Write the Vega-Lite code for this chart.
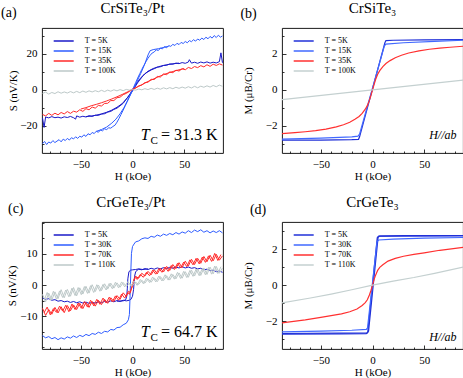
{
"$schema":"https://vega.github.io/schema/vega-lite/v6.json",
"padding":{"left":0,"top":0,"right":0,"bottom":0},
"columns":2,
"spacing":{"row":69,"column":59},
"bounds":"flush",
"resolve":{"scale":{"x":"independent","y":"independent","color":"independent"},"axis":{"x":"independent","y":"independent"},"legend":{"color":"independent"}},
"config":{
 "font":"Liberation Serif",
 "view":{"stroke":"#000","strokeWidth":0.9},
 "axis":{"domain":false,"grid":false,"labelFont":"Liberation Serif","labelFontSize":11,"labelColor":"#000","titleFont":"Liberation Serif","titleFontSize":11,"titleFontWeight":"normal","titleColor":"#000","tickColor":"#000","tickWidth":0.8,"tickSize":-4,"labelPadding":9,"labelOverlap":false},
 "legend":{"labelFont":"Liberation Serif","labelFontSize":8,"labelColor":"#000","symbolStrokeWidth":1.5,"symbolType":"M-2,0L2,0","symbolSize":100,"labelOffset":15,"padding":0,"rowPadding":-3},
 "text":{"color":"#000","font":"Liberation Serif"}
},
"concat":[
{"width":181,"height":125,
 "resolve":{"axis":{"x":"independent","y":"independent"}},
 "layer":[
 {"data":{"values":[
{"s":"5K","H":-87,"v":-15.6},{"s":"5K","H":-85.5,"v":-20.8},{"s":"5K","H":-84,"v":-15.0},{"s":"5K","H":-81,"v":-15.5},{"s":"5K","H":-78,"v":-14.8},{"s":"5K","H":-75,"v":-15.4},{"s":"5K","H":-72,"v":-15.1},{"s":"5K","H":-69,"v":-15.6},{"s":"5K","H":-66,"v":-14.9},{"s":"5K","H":-63,"v":-15.3},{"s":"5K","H":-60,"v":-14.7},{"s":"5K","H":-57,"v":-15.4},{"s":"5K","H":-55,"v":-16.2},{"s":"5K","H":-54,"v":-14.4},{"s":"5K","H":-51,"v":-15.1},{"s":"5K","H":-48,"v":-14.6},{"s":"5K","H":-45,"v":-15.0},{"s":"5K","H":-42,"v":-14.3},{"s":"5K","H":-39,"v":-14.7},{"s":"5K","H":-36,"v":-14.0},{"s":"5K","H":-33,"v":-14.1},{"s":"5K","H":-30,"v":-13.4},{"s":"5K","H":-27,"v":-13.2},{"s":"5K","H":-24,"v":-12.3},{"s":"5K","H":-21,"v":-11.9},{"s":"5K","H":-18,"v":-10.8},{"s":"5K","H":-15,"v":-10.1},{"s":"5K","H":-12,"v":-8.8},{"s":"5K","H":-9,"v":-7.4},{"s":"5K","H":-6,"v":-5.1},{"s":"5K","H":-3,"v":-2.8},{"s":"5K","H":0,"v":0.1},{"s":"5K","H":3,"v":2.8},{"s":"5K","H":6,"v":5.4},{"s":"5K","H":9,"v":7.3},{"s":"5K","H":12,"v":9.1},{"s":"5K","H":15,"v":10.1},{"s":"5K","H":18,"v":11.1},{"s":"5K","H":21,"v":11.8},{"s":"5K","H":24,"v":12.6},{"s":"5K","H":27,"v":12.9},{"s":"5K","H":30,"v":13.6},{"s":"5K","H":33,"v":13.7},{"s":"5K","H":36,"v":14.4},{"s":"5K","H":39,"v":14.3},{"s":"5K","H":42,"v":14.9},{"s":"5K","H":45,"v":14.6},{"s":"5K","H":48,"v":15.2},{"s":"5K","H":51,"v":14.8},{"s":"5K","H":54,"v":15.5},{"s":"5K","H":55,"v":16.8},{"s":"5K","H":57,"v":14.9},{"s":"5K","H":60,"v":15.4},{"s":"5K","H":63,"v":14.8},{"s":"5K","H":66,"v":15.5},{"s":"5K","H":69,"v":15.0},{"s":"5K","H":72,"v":15.6},{"s":"5K","H":75,"v":14.9},{"s":"5K","H":78,"v":15.4},{"s":"5K","H":81,"v":15.0},{"s":"5K","H":84,"v":15.7},{"s":"5K","H":85.5,"v":20.6},{"s":"5K","H":87,"v":15.1},
{"s":"5Kr","H":-45,"v":-14.8},{"s":"5Kr","H":-40,"v":-14.5},{"s":"5Kr","H":-35,"v":-14.0},{"s":"5Kr","H":-30,"v":-13.3},{"s":"5Kr","H":-25,"v":-12.4},{"s":"5Kr","H":-20,"v":-11.2},{"s":"5Kr","H":-15,"v":-9.6},{"s":"5Kr","H":-10,"v":-7.6},{"s":"5Kr","H":-5,"v":-4.4},{"s":"5Kr","H":0,"v":-0.5},{"s":"5Kr","H":5,"v":4.0},{"s":"5Kr","H":10,"v":7.8},{"s":"5Kr","H":15,"v":10.4},{"s":"5Kr","H":20,"v":11.9},{"s":"5Kr","H":25,"v":12.9},{"s":"5Kr","H":30,"v":13.6},{"s":"5Kr","H":35,"v":14.2},{"s":"5Kr","H":40,"v":14.6},{"s":"5Kr","H":45,"v":14.9},
{"s":"15K","H":-87,"v":-29.8},{"s":"15K","H":-85,"v":-28.6},{"s":"15K","H":-83,"v":-30.3},{"s":"15K","H":-81,"v":-28.9},{"s":"15K","H":-79,"v":-29.5},{"s":"15K","H":-77,"v":-28.1},{"s":"15K","H":-75,"v":-29.2},{"s":"15K","H":-73,"v":-28.4},{"s":"15K","H":-71,"v":-27.6},{"s":"15K","H":-69,"v":-28.8},{"s":"15K","H":-67,"v":-27.3},{"s":"15K","H":-65,"v":-28.1},{"s":"15K","H":-63,"v":-26.9},{"s":"15K","H":-61,"v":-27.8},{"s":"15K","H":-59,"v":-26.5},{"s":"15K","H":-57,"v":-27.2},{"s":"15K","H":-55,"v":-26.0},{"s":"15K","H":-53,"v":-26.9},{"s":"15K","H":-51,"v":-25.7},{"s":"15K","H":-49,"v":-26.2},{"s":"15K","H":-47,"v":-24.9},{"s":"15K","H":-45,"v":-25.8},{"s":"15K","H":-43,"v":-24.3},{"s":"15K","H":-41,"v":-24.9},{"s":"15K","H":-39,"v":-23.6},{"s":"15K","H":-37,"v":-24.2},{"s":"15K","H":-35,"v":-22.9},{"s":"15K","H":-33,"v":-23.5},{"s":"15K","H":-31,"v":-22.2},{"s":"15K","H":-29,"v":-22.7},{"s":"15K","H":-27,"v":-21.6},{"s":"15K","H":-25,"v":-22.0},{"s":"15K","H":-23,"v":-21.0},{"s":"15K","H":-21,"v":-21.2},{"s":"15K","H":-19,"v":-20.3},{"s":"15K","H":-17,"v":-19.6},{"s":"15K","H":-15,"v":-17.9},{"s":"15K","H":-13,"v":-15.8},{"s":"15K","H":-11,"v":-13.5},{"s":"15K","H":-9,"v":-11.2},{"s":"15K","H":-7,"v":-8.7},{"s":"15K","H":-5,"v":-6.3},{"s":"15K","H":-3,"v":-3.8},{"s":"15K","H":-1,"v":-1.2},{"s":"15K","H":1,"v":1.4},{"s":"15K","H":3,"v":4.0},{"s":"15K","H":5,"v":6.6},{"s":"15K","H":7,"v":9.0},{"s":"15K","H":9,"v":11.4},{"s":"15K","H":11,"v":13.6},{"s":"15K","H":13,"v":15.7},{"s":"15K","H":15,"v":17.6},{"s":"15K","H":17,"v":19.2},{"s":"15K","H":19,"v":20.5},{"s":"15K","H":21,"v":21.1},{"s":"15K","H":23,"v":22.3},{"s":"15K","H":25,"v":21.9},{"s":"15K","H":27,"v":23.2},{"s":"15K","H":29,"v":22.8},{"s":"15K","H":31,"v":24.1},{"s":"15K","H":33,"v":23.4},{"s":"15K","H":35,"v":24.6},{"s":"15K","H":37,"v":24.2},{"s":"15K","H":39,"v":25.3},{"s":"15K","H":41,"v":24.7},{"s":"15K","H":43,"v":25.9},{"s":"15K","H":45,"v":25.2},{"s":"15K","H":47,"v":26.4},{"s":"15K","H":49,"v":25.8},{"s":"15K","H":51,"v":26.9},{"s":"15K","H":53,"v":26.2},{"s":"15K","H":55,"v":27.4},{"s":"15K","H":57,"v":26.8},{"s":"15K","H":59,"v":27.9},{"s":"15K","H":61,"v":27.1},{"s":"15K","H":63,"v":28.3},{"s":"15K","H":65,"v":27.6},{"s":"15K","H":67,"v":28.8},{"s":"15K","H":69,"v":28.0},{"s":"15K","H":71,"v":29.3},{"s":"15K","H":73,"v":28.4},{"s":"15K","H":75,"v":29.7},{"s":"15K","H":77,"v":28.8},{"s":"15K","H":79,"v":30.2},{"s":"15K","H":81,"v":29.1},{"s":"15K","H":83,"v":30.4},{"s":"15K","H":85,"v":29.3},{"s":"15K","H":87,"v":30.0},
{"s":"15Kr","H":-35,"v":-23.0},{"s":"15Kr","H":-30,"v":-22.0},{"s":"15Kr","H":-25,"v":-20.6},{"s":"15Kr","H":-20,"v":-18.4},{"s":"15Kr","H":-16,"v":-16.2},{"s":"15Kr","H":-12,"v":-13.2},{"s":"15Kr","H":-8,"v":-9.6},{"s":"15Kr","H":-4,"v":-5.0},{"s":"15Kr","H":0,"v":-0.4},{"s":"15Kr","H":4,"v":4.4},{"s":"15Kr","H":8,"v":9.2},{"s":"15Kr","H":12,"v":14.6},{"s":"15Kr","H":15,"v":19.4},{"s":"15Kr","H":17,"v":21.8},{"s":"15Kr","H":20,"v":22.4},{"s":"15Kr","H":25,"v":22.9},{"s":"15Kr","H":30,"v":23.6},{"s":"15Kr","H":35,"v":24.3},
{"s":"35K","H":-87,"v":-13.6},{"s":"35K","H":-84,"v":-14.4},{"s":"35K","H":-81,"v":-13.0},{"s":"35K","H":-78,"v":-14.1},{"s":"35K","H":-75,"v":-12.9},{"s":"35K","H":-72,"v":-13.8},{"s":"35K","H":-69,"v":-12.5},{"s":"35K","H":-66,"v":-13.3},{"s":"35K","H":-63,"v":-12.0},{"s":"35K","H":-60,"v":-13.0},{"s":"35K","H":-57,"v":-11.8},{"s":"35K","H":-54,"v":-12.3},{"s":"35K","H":-51,"v":-11.0},{"s":"35K","H":-48,"v":-11.9},{"s":"35K","H":-45,"v":-10.4},{"s":"35K","H":-42,"v":-11.0},{"s":"35K","H":-39,"v":-9.5},{"s":"35K","H":-36,"v":-10.1},{"s":"35K","H":-33,"v":-8.6},{"s":"35K","H":-30,"v":-8.9},{"s":"35K","H":-27,"v":-7.5},{"s":"35K","H":-24,"v":-7.4},{"s":"35K","H":-21,"v":-5.9},{"s":"35K","H":-18,"v":-5.9},{"s":"35K","H":-15,"v":-4.3},{"s":"35K","H":-12,"v":-4.0},{"s":"35K","H":-9,"v":-2.6},{"s":"35K","H":-6,"v":-1.9},{"s":"35K","H":-3,"v":-0.8},{"s":"35K","H":0,"v":0.2},{"s":"35K","H":3,"v":1.0},{"s":"35K","H":6,"v":2.2},{"s":"35K","H":9,"v":2.7},{"s":"35K","H":12,"v":4.1},{"s":"35K","H":15,"v":4.3},{"s":"35K","H":18,"v":5.9},{"s":"35K","H":21,"v":5.8},{"s":"35K","H":24,"v":7.5},{"s":"35K","H":27,"v":7.2},{"s":"35K","H":30,"v":8.9},{"s":"35K","H":33,"v":8.5},{"s":"35K","H":36,"v":10.0},{"s":"35K","H":39,"v":9.6},{"s":"35K","H":42,"v":11.0},{"s":"35K","H":45,"v":10.5},{"s":"35K","H":48,"v":11.8},{"s":"35K","H":51,"v":11.2},{"s":"35K","H":54,"v":12.5},{"s":"35K","H":57,"v":11.9},{"s":"35K","H":60,"v":13.0},{"s":"35K","H":63,"v":12.4},{"s":"35K","H":66,"v":13.5},{"s":"35K","H":69,"v":12.8},{"s":"35K","H":72,"v":14.0},{"s":"35K","H":75,"v":13.1},{"s":"35K","H":78,"v":14.3},{"s":"35K","H":81,"v":13.6},{"s":"35K","H":84,"v":14.5},{"s":"35K","H":87,"v":13.8},
{"s":"35Kr","H":-50,"v":-10.6},{"s":"35Kr","H":-45,"v":-9.8},{"s":"35Kr","H":-40,"v":-8.8},{"s":"35Kr","H":-35,"v":-8.0},{"s":"35Kr","H":-30,"v":-7.1},{"s":"35Kr","H":-25,"v":-6.1},{"s":"35Kr","H":-20,"v":-5.0},{"s":"35Kr","H":-15,"v":-3.8},{"s":"35Kr","H":-10,"v":-2.5},{"s":"35Kr","H":-5,"v":-1.1},{"s":"35Kr","H":0,"v":0.4},{"s":"35Kr","H":5,"v":1.8},{"s":"35Kr","H":10,"v":3.2},{"s":"35Kr","H":15,"v":4.7},{"s":"35Kr","H":20,"v":6.0},{"s":"35Kr","H":25,"v":7.3},{"s":"35Kr","H":30,"v":8.5},{"s":"35Kr","H":35,"v":9.5},{"s":"35Kr","H":40,"v":10.4},{"s":"35Kr","H":45,"v":11.2},{"s":"35Kr","H":50,"v":11.9},
{"s":"100K","H":-87,"v":-1.9},{"s":"100K","H":-84,"v":-1.2},{"s":"100K","H":-81,"v":-2.3},{"s":"100K","H":-78,"v":-1.4},{"s":"100K","H":-75,"v":-2.0},{"s":"100K","H":-72,"v":-1.0},{"s":"100K","H":-69,"v":-1.8},{"s":"100K","H":-66,"v":-1.1},{"s":"100K","H":-63,"v":-1.7},{"s":"100K","H":-60,"v":-0.9},{"s":"100K","H":-57,"v":-1.6},{"s":"100K","H":-54,"v":-0.8},{"s":"100K","H":-51,"v":-1.5},{"s":"100K","H":-48,"v":-0.6},{"s":"100K","H":-45,"v":-1.3},{"s":"100K","H":-42,"v":-0.5},{"s":"100K","H":-39,"v":-1.1},{"s":"100K","H":-36,"v":-0.4},{"s":"100K","H":-33,"v":-1.0},{"s":"100K","H":-30,"v":-0.2},{"s":"100K","H":-27,"v":-0.9},{"s":"100K","H":-24,"v":-0.1},{"s":"100K","H":-21,"v":-0.7},{"s":"100K","H":-18,"v":0.1},{"s":"100K","H":-15,"v":-0.5},{"s":"100K","H":-12,"v":0.2},{"s":"100K","H":-9,"v":-0.4},{"s":"100K","H":-6,"v":0.3},{"s":"100K","H":-3,"v":-0.1},{"s":"100K","H":0,"v":0.2},{"s":"100K","H":3,"v":-0.1},{"s":"100K","H":6,"v":0.5},{"s":"100K","H":9,"v":0.1},{"s":"100K","H":12,"v":0.7},{"s":"100K","H":15,"v":0.2},{"s":"100K","H":18,"v":0.9},{"s":"100K","H":21,"v":0.3},{"s":"100K","H":24,"v":1.0},{"s":"100K","H":27,"v":0.4},{"s":"100K","H":30,"v":1.2},{"s":"100K","H":33,"v":0.6},{"s":"100K","H":36,"v":1.3},{"s":"100K","H":39,"v":0.7},{"s":"100K","H":42,"v":1.5},{"s":"100K","H":45,"v":0.9},{"s":"100K","H":48,"v":1.6},{"s":"100K","H":51,"v":1.0},{"s":"100K","H":54,"v":1.8},{"s":"100K","H":57,"v":1.1},{"s":"100K","H":60,"v":2.0},{"s":"100K","H":63,"v":1.2},{"s":"100K","H":66,"v":2.1},{"s":"100K","H":69,"v":1.5},{"s":"100K","H":72,"v":2.3},{"s":"100K","H":75,"v":1.6},{"s":"100K","H":78,"v":2.5},{"s":"100K","H":81,"v":1.8},{"s":"100K","H":84,"v":2.7},{"s":"100K","H":87,"v":2.0}
 ]},
 "mark":{"type":"line","clip":true,"strokeWidth":1},
 "encoding":{
  "x":{"field":"H","type":"quantitative","scale":{"domain":[-87.5,87.5],"nice":false,"zero":false},"axis":{"orient":"bottom","title":"H (kOe)","titlePadding":1,"values":[-50,0,50]}},
  "y":{"field":"v","type":"quantitative","scale":{"domain":[-35,34.4],"nice":false,"zero":false},"axis":{"orient":"left","title":"S (nV/K)","values":[-20,0,20],"titlePadding":1}},
  "color":{"field":"s","type":"nominal","scale":{"domain":["5K","15K","35K","100K","5Kr","15Kr","35Kr"],"range":["#1a1ac8","#2e5cff","#ff2a2a","#bcc8c8","#1a1ac8","#2e5cff","#ff2a2a"]},"legend":{"title":null,"values":["5K","15K","35K","100K"],"labelExpr":"'T = ' + datum.label","orient":"none","legendX":15.7,"legendY":7}}
 }},
 {"data":{"values":[{}]},"mark":{"type":"text"},"encoding":{"x":{"datum":0,"type":"quantitative","scale":{"domain":[-87.5,87.5],"nice":false,"zero":false},"axis":{"orient":"bottom","title":null,"labels":false,"tickSize":-2,"values":[-80,-70,-60,-40,-30,-20,-10,10,20,30,40,60,70,80]}},"y":{"datum":0,"type":"quantitative","scale":{"domain":[-35,34.4],"nice":false,"zero":false},"axis":{"orient":"left","title":null,"labels":false,"tickSize":-2,"values":[-30,-10,10,30]}},"text":{"value":""}}},
 {"data":{"values":[{}]},"mark":{"type":"text","fontSize":14,"align":"left","baseline":"alphabetic"},"encoding":{"x":{"datum":-127.1,"type":"quantitative","scale":{"domain":[-87.5,87.5],"nice":false,"zero":false},"axis":null},"y":{"datum":40.4,"type":"quantitative","scale":{"domain":[-35,34.4],"nice":false,"zero":false},"axis":null},"text":{"value":"(a)"}}},
 {"data":{"values":[{}]},"mark":{"type":"text","fontSize":15,"align":"center","baseline":"alphabetic"},"encoding":{"x":{"datum":0,"type":"quantitative","scale":{"domain":[-87.5,87.5],"nice":false,"zero":false},"axis":null},"y":{"datum":42.6,"type":"quantitative","scale":{"domain":[-35,34.4],"nice":false,"zero":false},"axis":null},"text":{"value":"CrSiTe₃/Pt"}}},
 {"data":{"values":[{}]},"mark":{"type":"text","fontSize":16,"fontStyle":"italic","align":"left","baseline":"alphabetic"},"encoding":{"x":{"datum":8,"type":"quantitative","scale":{"domain":[-87.5,87.5],"nice":false,"zero":false},"axis":null},"y":{"datum":-27.8,"type":"quantitative","scale":{"domain":[-35,34.4],"nice":false,"zero":false},"axis":null},"text":{"value":"T"}}},
 {"data":{"values":[{}]},"mark":{"type":"text","fontSize":11,"align":"left","baseline":"alphabetic"},"encoding":{"x":{"datum":17.5,"type":"quantitative","scale":{"domain":[-87.5,87.5],"nice":false,"zero":false},"axis":null},"y":{"datum":-30,"type":"quantitative","scale":{"domain":[-35,34.4],"nice":false,"zero":false},"axis":null},"text":{"value":"C"}}},
 {"data":{"values":[{}]},"mark":{"type":"text","fontSize":16,"align":"left","baseline":"alphabetic"},"encoding":{"x":{"datum":27.6,"type":"quantitative","scale":{"domain":[-87.5,87.5],"nice":false,"zero":false},"axis":null},"y":{"datum":-27.8,"type":"quantitative","scale":{"domain":[-35,34.4],"nice":false,"zero":false},"axis":null},"text":{"value":"= 31.3 K"}}}
 ]},
{"width":181,"height":125,
 "resolve":{"axis":{"x":"independent","y":"independent"}},
 "layer":[
 {"data":{"values":[
{"s":"5K","H":-88,"v":-2.79},{"s":"5K","H":-50,"v":-2.78},{"s":"5K","H":-20,"v":-2.76},{"s":"5K","H":-13.5,"v":-2.74},{"s":"5K","H":-12.5,"v":-2.6},{"s":"5K","H":12,"v":2.62},{"s":"5K","H":13,"v":2.74},{"s":"5K","H":20,"v":2.76},{"s":"5K","H":50,"v":2.78},{"s":"5K","H":88,"v":2.79},
{"s":"15K","H":-88,"v":-2.73},{"s":"15K","H":-50,"v":-2.67},{"s":"15K","H":-20,"v":-2.6},{"s":"15K","H":-14,"v":-2.56},{"s":"15K","H":-12.5,"v":-2.45},{"s":"15K","H":11.5,"v":2.45},{"s":"15K","H":13,"v":2.55},{"s":"15K","H":30,"v":2.62},{"s":"15K","H":60,"v":2.7},{"s":"15K","H":88,"v":2.76},
{"s":"35K","H":-88,"v":-2.43},{"s":"35K","H":-75,"v":-2.37},{"s":"35K","H":-65,"v":-2.32},{"s":"35K","H":-55,"v":-2.26},{"s":"35K","H":-45,"v":-2.17},{"s":"35K","H":-35,"v":-2.05},{"s":"35K","H":-28,"v":-1.93},{"s":"35K","H":-22,"v":-1.79},{"s":"35K","H":-17,"v":-1.63},{"s":"35K","H":-13,"v":-1.47},{"s":"35K","H":-10,"v":-1.3},{"s":"35K","H":-7,"v":-1.07},{"s":"35K","H":-5,"v":-0.87},{"s":"35K","H":-3,"v":-0.58},{"s":"35K","H":-1.5,"v":-0.3},{"s":"35K","H":0,"v":0},{"s":"35K","H":1.5,"v":0.3},{"s":"35K","H":3,"v":0.58},{"s":"35K","H":5,"v":0.87},{"s":"35K","H":7,"v":1.07},{"s":"35K","H":10,"v":1.3},{"s":"35K","H":13,"v":1.47},{"s":"35K","H":17,"v":1.63},{"s":"35K","H":22,"v":1.79},{"s":"35K","H":28,"v":1.93},{"s":"35K","H":35,"v":2.05},{"s":"35K","H":45,"v":2.17},{"s":"35K","H":55,"v":2.26},{"s":"35K","H":65,"v":2.32},{"s":"35K","H":75,"v":2.37},{"s":"35K","H":88,"v":2.43},
{"s":"100K","H":-88,"v":-0.54},{"s":"100K","H":0,"v":0},{"s":"100K","H":88,"v":0.55}
 ]},
 "mark":{"type":"line","clip":true,"strokeWidth":1.2},
 "encoding":{
  "x":{"field":"H","type":"quantitative","scale":{"domain":[-87.5,87.5],"nice":false,"zero":false},"axis":{"orient":"bottom","title":"H (kOe)","titlePadding":1,"values":[-50,0,50]}},
  "y":{"field":"v","type":"quantitative","scale":{"domain":[-3.5,3.44],"nice":false,"zero":false},"axis":{"orient":"left","title":"M (μB/Cr)","values":[-2,0,2],"titlePadding":12}},
  "color":{"field":"s","type":"nominal","scale":{"domain":["5K","15K","35K","100K"],"range":["#2030d8","#4169ff","#ff3030","#c4d0d0"]},"legend":{"title":null,"values":["5K","15K","35K","100K"],"labelExpr":"'T = ' + datum.label","orient":"none","legendX":15.7,"legendY":7}}
 }},
 {"data":{"values":[{}]},"mark":{"type":"text"},"encoding":{"x":{"datum":0,"type":"quantitative","scale":{"domain":[-87.5,87.5],"nice":false,"zero":false},"axis":{"orient":"bottom","title":null,"labels":false,"tickSize":-2,"values":[-80,-70,-60,-40,-30,-20,-10,10,20,30,40,60,70,80]}},"y":{"datum":0,"type":"quantitative","scale":{"domain":[-3.5,3.44],"nice":false,"zero":false},"axis":{"orient":"left","title":null,"labels":false,"tickSize":-2,"values":[-3,-1,1,3]}},"text":{"value":""}}},
 {"data":{"values":[{}]},"mark":{"type":"text","fontSize":14,"align":"left","baseline":"alphabetic"},"encoding":{"x":{"datum":-127.7,"type":"quantitative","scale":{"domain":[-87.5,87.5],"nice":false,"zero":false},"axis":null},"y":{"datum":4.0,"type":"quantitative","scale":{"domain":[-3.5,3.44],"nice":false,"zero":false},"axis":null},"text":{"value":"(b)"}}},
 {"data":{"values":[{}]},"mark":{"type":"text","fontSize":15,"align":"center","baseline":"alphabetic"},"encoding":{"x":{"datum":0,"type":"quantitative","scale":{"domain":[-87.5,87.5],"nice":false,"zero":false},"axis":null},"y":{"datum":4.26,"type":"quantitative","scale":{"domain":[-3.5,3.44],"nice":false,"zero":false},"axis":null},"text":{"value":"CrSiTe₃"}}},
 {"data":{"values":[{}]},"mark":{"type":"text","fontSize":12,"fontStyle":"italic","align":"right","baseline":"alphabetic"},"encoding":{"x":{"datum":81.2,"type":"quantitative","scale":{"domain":[-87.5,87.5],"nice":false,"zero":false},"axis":null},"y":{"datum":-2.72,"type":"quantitative","scale":{"domain":[-3.5,3.44],"nice":false,"zero":false},"axis":null},"text":{"value":"H//ab"}}}
 ]},
{"width":181,"height":127,
 "resolve":{"axis":{"x":"independent","y":"independent"}},
 "layer":[
 {"data":{"values":[
{"s":"5K","H":-87,"v":-4.2},{"s":"5K","H":-84,"v":-4.6},{"s":"5K","H":-81,"v":-4.4},{"s":"5K","H":-78,"v":-4.9},{"s":"5K","H":-75,"v":-4.7},{"s":"5K","H":-72,"v":-5.2},{"s":"5K","H":-69,"v":-5.0},{"s":"5K","H":-66,"v":-5.4},{"s":"5K","H":-63,"v":-5.2},{"s":"5K","H":-60,"v":-5.6},{"s":"5K","H":-57,"v":-5.3},{"s":"5K","H":-54,"v":-5.7},{"s":"5K","H":-51,"v":-5.4},{"s":"5K","H":-48,"v":-5.8},{"s":"5K","H":-45,"v":-5.5},{"s":"5K","H":-42,"v":-5.9},{"s":"5K","H":-39,"v":-5.6},{"s":"5K","H":-36,"v":-5.8},{"s":"5K","H":-33,"v":-5.4},{"s":"5K","H":-30,"v":-5.7},{"s":"5K","H":-27,"v":-5.3},{"s":"5K","H":-24,"v":-5.5},{"s":"5K","H":-21,"v":-5.1},{"s":"5K","H":-18,"v":-5.4},{"s":"5K","H":-15,"v":-5.0},{"s":"5K","H":-12,"v":-5.3},{"s":"5K","H":-9,"v":-4.9},{"s":"5K","H":-6,"v":-5.1},{"s":"5K","H":-3,"v":-4.9},{"s":"5K","H":-1.5,"v":-4.6},{"s":"5K","H":0,"v":-3.6},{"s":"5K","H":1,"v":-1.5},{"s":"5K","H":1.5,"v":0.5},{"s":"5K","H":2,"v":2.8},{"s":"5K","H":3,"v":4.2},{"s":"5K","H":4.5,"v":4.8},{"s":"5K","H":6,"v":5.1},{"s":"5K","H":9,"v":4.9},{"s":"5K","H":12,"v":5.3},{"s":"5K","H":15,"v":5.0},{"s":"5K","H":18,"v":5.4},{"s":"5K","H":21,"v":5.1},{"s":"5K","H":24,"v":5.5},{"s":"5K","H":27,"v":5.2},{"s":"5K","H":30,"v":5.6},{"s":"5K","H":33,"v":5.3},{"s":"5K","H":36,"v":5.7},{"s":"5K","H":39,"v":5.4},{"s":"5K","H":42,"v":5.8},{"s":"5K","H":45,"v":5.5},{"s":"5K","H":48,"v":5.9},{"s":"5K","H":51,"v":5.5},{"s":"5K","H":54,"v":5.8},{"s":"5K","H":57,"v":5.4},{"s":"5K","H":60,"v":5.6},{"s":"5K","H":63,"v":5.2},{"s":"5K","H":66,"v":5.4},{"s":"5K","H":69,"v":4.9},{"s":"5K","H":72,"v":5.1},{"s":"5K","H":75,"v":4.6},{"s":"5K","H":78,"v":4.8},{"s":"5K","H":81,"v":4.3},{"s":"5K","H":84,"v":4.5},{"s":"5K","H":87,"v":4.1},
{"s":"5Kr","H":-15,"v":-5.2},{"s":"5Kr","H":-9,"v":-5.1},{"s":"5Kr","H":-6.5,"v":-4.7},{"s":"5Kr","H":-5.5,"v":-3.5},{"s":"5Kr","H":-5,"v":-1.0},{"s":"5Kr","H":-4.5,"v":2.0},{"s":"5Kr","H":-3.5,"v":4.2},{"s":"5Kr","H":-2,"v":4.8},{"s":"5Kr","H":0,"v":4.9},{"s":"5Kr","H":3,"v":5.0},{"s":"5Kr","H":6,"v":5.2},{"s":"5Kr","H":10,"v":5.0},{"s":"5Kr","H":15,"v":5.2},
{"s":"30K","H":-87,"v":-16.3},{"s":"30K","H":-84,"v":-17.0},{"s":"30K","H":-81,"v":-16.6},{"s":"30K","H":-78,"v":-17.3},{"s":"30K","H":-75,"v":-16.9},{"s":"30K","H":-72,"v":-17.6},{"s":"30K","H":-69,"v":-17.0},{"s":"30K","H":-66,"v":-17.4},{"s":"30K","H":-63,"v":-16.7},{"s":"30K","H":-60,"v":-17.1},{"s":"30K","H":-57,"v":-16.4},{"s":"30K","H":-54,"v":-16.9},{"s":"30K","H":-51,"v":-16.2},{"s":"30K","H":-48,"v":-16.6},{"s":"30K","H":-45,"v":-15.9},{"s":"30K","H":-42,"v":-16.3},{"s":"30K","H":-39,"v":-15.6},{"s":"30K","H":-36,"v":-15.9},{"s":"30K","H":-33,"v":-15.2},{"s":"30K","H":-30,"v":-15.6},{"s":"30K","H":-27,"v":-14.9},{"s":"30K","H":-24,"v":-15.1},{"s":"30K","H":-21,"v":-14.3},{"s":"30K","H":-18,"v":-14.5},{"s":"30K","H":-15,"v":-13.7},{"s":"30K","H":-12,"v":-13.6},{"s":"30K","H":-9,"v":-12.8},{"s":"30K","H":-6,"v":-12.3},{"s":"30K","H":-4,"v":-11.2},{"s":"30K","H":-3,"v":-9.5},{"s":"30K","H":-2.5,"v":-5},{"s":"30K","H":-2,"v":0},{"s":"30K","H":-1.5,"v":5.5},{"s":"30K","H":-1,"v":10.2},{"s":"30K","H":0,"v":12.4},{"s":"30K","H":1.5,"v":13.2},{"s":"30K","H":3,"v":13.9},{"s":"30K","H":6,"v":14.2},{"s":"30K","H":9,"v":14.9},{"s":"30K","H":12,"v":15.2},{"s":"30K","H":15,"v":15.0},{"s":"30K","H":18,"v":15.7},{"s":"30K","H":21,"v":15.4},{"s":"30K","H":24,"v":16.1},{"s":"30K","H":27,"v":15.7},{"s":"30K","H":30,"v":16.4},{"s":"30K","H":33,"v":16.0},{"s":"30K","H":36,"v":16.6},{"s":"30K","H":39,"v":16.2},{"s":"30K","H":42,"v":16.9},{"s":"30K","H":45,"v":16.4},{"s":"30K","H":48,"v":17.1},{"s":"30K","H":51,"v":16.7},{"s":"30K","H":54,"v":17.5},{"s":"30K","H":57,"v":16.9},{"s":"30K","H":60,"v":17.7},{"s":"30K","H":63,"v":17.2},{"s":"30K","H":66,"v":17.8},{"s":"30K","H":69,"v":17.0},{"s":"30K","H":72,"v":17.5},{"s":"30K","H":75,"v":16.8},{"s":"30K","H":78,"v":17.4},{"s":"30K","H":81,"v":16.9},{"s":"30K","H":84,"v":17.5},{"s":"30K","H":87,"v":16.8},
{"s":"70K","H":-87,"v":-7.5},{"s":"70K","H":-84,"v":-9.8},{"s":"70K","H":-81,"v":-7.9},{"s":"70K","H":-78,"v":-9.4},{"s":"70K","H":-75,"v":-7.2},{"s":"70K","H":-72,"v":-9.0},{"s":"70K","H":-69,"v":-7.0},{"s":"70K","H":-66,"v":-8.9},{"s":"70K","H":-63,"v":-6.6},{"s":"70K","H":-60,"v":-8.3},{"s":"70K","H":-57,"v":-6.4},{"s":"70K","H":-54,"v":-7.9},{"s":"70K","H":-51,"v":-5.9},{"s":"70K","H":-48,"v":-7.6},{"s":"70K","H":-45,"v":-5.6},{"s":"70K","H":-42,"v":-7.2},{"s":"70K","H":-39,"v":-5.3},{"s":"70K","H":-36,"v":-6.8},{"s":"70K","H":-33,"v":-4.9},{"s":"70K","H":-30,"v":-6.3},{"s":"70K","H":-27,"v":-4.6},{"s":"70K","H":-24,"v":-5.9},{"s":"70K","H":-21,"v":-4.1},{"s":"70K","H":-18,"v":-5.3},{"s":"70K","H":-15,"v":-3.4},{"s":"70K","H":-12,"v":-4.6},{"s":"70K","H":-9,"v":-2.5},{"s":"70K","H":-6,"v":-3.7},{"s":"70K","H":-4,"v":-2.0},{"s":"70K","H":-2,"v":-2.4},{"s":"70K","H":-1,"v":-1.0},{"s":"70K","H":0,"v":0.3},{"s":"70K","H":1,"v":1.4},{"s":"70K","H":2,"v":2.0},{"s":"70K","H":4,"v":2.6},{"s":"70K","H":6,"v":2.2},{"s":"70K","H":9,"v":3.8},{"s":"70K","H":12,"v":2.9},{"s":"70K","H":15,"v":4.4},{"s":"70K","H":18,"v":3.3},{"s":"70K","H":21,"v":4.9},{"s":"70K","H":24,"v":3.6},{"s":"70K","H":27,"v":5.4},{"s":"70K","H":30,"v":4.2},{"s":"70K","H":33,"v":6.0},{"s":"70K","H":36,"v":4.7},{"s":"70K","H":39,"v":6.6},{"s":"70K","H":42,"v":5.3},{"s":"70K","H":45,"v":7.2},{"s":"70K","H":48,"v":5.6},{"s":"70K","H":51,"v":7.7},{"s":"70K","H":54,"v":6.1},{"s":"70K","H":57,"v":8.3},{"s":"70K","H":60,"v":6.6},{"s":"70K","H":63,"v":8.6},{"s":"70K","H":66,"v":7.0},{"s":"70K","H":69,"v":9.2},{"s":"70K","H":72,"v":7.5},{"s":"70K","H":75,"v":9.6},{"s":"70K","H":78,"v":7.8},{"s":"70K","H":81,"v":9.9},{"s":"70K","H":84,"v":8.0},{"s":"70K","H":87,"v":9.4},
{"s":"70Kr","H":-85.5,"v":-8.9},{"s":"70Kr","H":-82.5,"v":-7.1},{"s":"70Kr","H":-79.5,"v":-9.6},{"s":"70Kr","H":-76.5,"v":-7.6},{"s":"70Kr","H":-73.5,"v":-8.8},{"s":"70Kr","H":-70.5,"v":-6.8},{"s":"70Kr","H":-67.5,"v":-8.4},{"s":"70Kr","H":-64.5,"v":-6.5},{"s":"70Kr","H":-61.5,"v":-8.6},{"s":"70Kr","H":-58.5,"v":-6.1},{"s":"70Kr","H":-55.5,"v":-7.9},{"s":"70Kr","H":-52.5,"v":-5.8},{"s":"70Kr","H":-49.5,"v":-7.5},{"s":"70Kr","H":-46.5,"v":-5.3},{"s":"70Kr","H":-43.5,"v":-7.1},{"s":"70Kr","H":-40.5,"v":-4.9},{"s":"70Kr","H":-37.5,"v":-6.7},{"s":"70Kr","H":-34.5,"v":-4.6},{"s":"70Kr","H":-31.5,"v":-6.2},{"s":"70Kr","H":-28.5,"v":-4.2},{"s":"70Kr","H":-25.5,"v":-5.8},{"s":"70Kr","H":-22.5,"v":-3.9},{"s":"70Kr","H":-19.5,"v":-5.4},{"s":"70Kr","H":-16.5,"v":-3.5},{"s":"70Kr","H":-13.5,"v":-4.9},{"s":"70Kr","H":-10.5,"v":-2.9},{"s":"70Kr","H":-7.5,"v":-4.2},{"s":"70Kr","H":-4.5,"v":-2.4},{"s":"70Kr","H":-3,"v":-3.0},{"s":"70Kr","H":-1.5,"v":-1.6},{"s":"70Kr","H":0,"v":-0.4},{"s":"70Kr","H":1.5,"v":1.9},{"s":"70Kr","H":3,"v":2.9},{"s":"70Kr","H":4.5,"v":1.8},{"s":"70Kr","H":7.5,"v":3.4},{"s":"70Kr","H":10.5,"v":2.5},{"s":"70Kr","H":13.5,"v":4.1},{"s":"70Kr","H":16.5,"v":3.0},{"s":"70Kr","H":19.5,"v":4.8},{"s":"70Kr","H":22.5,"v":3.5},{"s":"70Kr","H":25.5,"v":5.3},{"s":"70Kr","H":28.5,"v":4.1},{"s":"70Kr","H":31.5,"v":5.8},{"s":"70Kr","H":34.5,"v":4.4},{"s":"70Kr","H":37.5,"v":6.3},{"s":"70Kr","H":40.5,"v":5.0},{"s":"70Kr","H":43.5,"v":7.0},{"s":"70Kr","H":46.5,"v":5.5},{"s":"70Kr","H":49.5,"v":7.4},{"s":"70Kr","H":52.5,"v":5.9},{"s":"70Kr","H":55.5,"v":8.1},{"s":"70Kr","H":58.5,"v":6.5},{"s":"70Kr","H":61.5,"v":8.6},{"s":"70Kr","H":64.5,"v":6.8},{"s":"70Kr","H":67.5,"v":9.0},{"s":"70Kr","H":70.5,"v":7.3},{"s":"70Kr","H":73.5,"v":9.4},{"s":"70Kr","H":76.5,"v":7.6},{"s":"70Kr","H":79.5,"v":10.2},{"s":"70Kr","H":82.5,"v":7.9},{"s":"70Kr","H":85.5,"v":9.8},
{"s":"110K","H":-87,"v":-3.0},{"s":"110K","H":-84,"v":-5.4},{"s":"110K","H":-81,"v":-2.6},{"s":"110K","H":-78,"v":-4.8},{"s":"110K","H":-75,"v":-2.2},{"s":"110K","H":-72,"v":-4.4},{"s":"110K","H":-69,"v":-1.5},{"s":"110K","H":-66,"v":-4.1},{"s":"110K","H":-63,"v":-1.4},{"s":"110K","H":-60,"v":-3.6},{"s":"110K","H":-57,"v":-0.8},{"s":"110K","H":-54,"v":-3.5},{"s":"110K","H":-51,"v":-0.9},{"s":"110K","H":-48,"v":-2.9},{"s":"110K","H":-45,"v":-0.4},{"s":"110K","H":-42,"v":-2.6},{"s":"110K","H":-39,"v":0.1},{"s":"110K","H":-36,"v":-2.1},{"s":"110K","H":-33,"v":0.0},{"s":"110K","H":-30,"v":-1.8},{"s":"110K","H":-27,"v":0.4},{"s":"110K","H":-24,"v":-1.3},{"s":"110K","H":-21,"v":0.6},{"s":"110K","H":-18,"v":-1.0},{"s":"110K","H":-15,"v":0.7},{"s":"110K","H":-12,"v":-0.7},{"s":"110K","H":-9,"v":0.8},{"s":"110K","H":-6,"v":-0.4},{"s":"110K","H":-3,"v":0.5},{"s":"110K","H":0,"v":-0.1},{"s":"110K","H":3,"v":0.9},{"s":"110K","H":6,"v":0.2},{"s":"110K","H":9,"v":1.5},{"s":"110K","H":12,"v":0.6},{"s":"110K","H":15,"v":2.0},{"s":"110K","H":18,"v":0.9},{"s":"110K","H":21,"v":2.3},{"s":"110K","H":24,"v":1.1},{"s":"110K","H":27,"v":2.7},{"s":"110K","H":30,"v":1.4},{"s":"110K","H":33,"v":3.0},{"s":"110K","H":36,"v":1.6},{"s":"110K","H":39,"v":3.4},{"s":"110K","H":42,"v":2.0},{"s":"110K","H":45,"v":3.9},{"s":"110K","H":48,"v":2.2},{"s":"110K","H":51,"v":4.3},{"s":"110K","H":54,"v":2.5},{"s":"110K","H":57,"v":4.8},{"s":"110K","H":60,"v":2.9},{"s":"110K","H":63,"v":5.2},{"s":"110K","H":66,"v":3.1},{"s":"110K","H":69,"v":5.5},{"s":"110K","H":72,"v":3.4},{"s":"110K","H":75,"v":5.8},{"s":"110K","H":78,"v":3.6},{"s":"110K","H":81,"v":6.0},{"s":"110K","H":84,"v":3.8},{"s":"110K","H":87,"v":5.5},
{"s":"110Kr","H":-85.5,"v":-5.0},{"s":"110Kr","H":-82.5,"v":-2.4},{"s":"110Kr","H":-79.5,"v":-4.9},{"s":"110Kr","H":-76.5,"v":-2.0},{"s":"110Kr","H":-73.5,"v":-4.6},{"s":"110Kr","H":-70.5,"v":-1.9},{"s":"110Kr","H":-67.5,"v":-4.0},{"s":"110Kr","H":-64.5,"v":-1.6},{"s":"110Kr","H":-61.5,"v":-3.8},{"s":"110Kr","H":-58.5,"v":-1.0},{"s":"110Kr","H":-55.5,"v":-3.4},{"s":"110Kr","H":-52.5,"v":-0.8},{"s":"110Kr","H":-49.5,"v":-3.1},{"s":"110Kr","H":-46.5,"v":-0.5},{"s":"110Kr","H":-43.5,"v":-2.7},{"s":"110Kr","H":-40.5,"v":-0.2},{"s":"110Kr","H":-37.5,"v":-2.4},{"s":"110Kr","H":-34.5,"v":0.1},{"s":"110Kr","H":-31.5,"v":-2.0},{"s":"110Kr","H":-28.5,"v":0.2},{"s":"110Kr","H":-25.5,"v":-1.6},{"s":"110Kr","H":-22.5,"v":0.5},{"s":"110Kr","H":-19.5,"v":-1.2},{"s":"110Kr","H":-16.5,"v":0.9},{"s":"110Kr","H":-13.5,"v":-0.9},{"s":"110Kr","H":-10.5,"v":1.0},{"s":"110Kr","H":-7.5,"v":-0.6},{"s":"110Kr","H":-4.5,"v":1.1},{"s":"110Kr","H":-1.5,"v":-0.3},{"s":"110Kr","H":1.5,"v":1.3},{"s":"110Kr","H":4.5,"v":-0.1},{"s":"110Kr","H":7.5,"v":1.8},{"s":"110Kr","H":10.5,"v":0.4},{"s":"110Kr","H":13.5,"v":2.2},{"s":"110Kr","H":16.5,"v":0.8},{"s":"110Kr","H":19.5,"v":2.6},{"s":"110Kr","H":22.5,"v":1.0},{"s":"110Kr","H":25.5,"v":2.9},{"s":"110Kr","H":28.5,"v":1.3},{"s":"110Kr","H":31.5,"v":3.3},{"s":"110Kr","H":34.5,"v":1.6},{"s":"110Kr","H":37.5,"v":3.6},{"s":"110Kr","H":40.5,"v":1.9},{"s":"110Kr","H":43.5,"v":4.1},{"s":"110Kr","H":46.5,"v":2.1},{"s":"110Kr","H":49.5,"v":4.4},{"s":"110Kr","H":52.5,"v":2.4},{"s":"110Kr","H":55.5,"v":4.7},{"s":"110Kr","H":58.5,"v":2.8},{"s":"110Kr","H":61.5,"v":5.1},{"s":"110Kr","H":64.5,"v":3.0},{"s":"110Kr","H":67.5,"v":5.4},{"s":"110Kr","H":70.5,"v":3.3},{"s":"110Kr","H":73.5,"v":5.7},{"s":"110Kr","H":76.5,"v":3.5},{"s":"110Kr","H":79.5,"v":6.1},{"s":"110Kr","H":82.5,"v":3.7},{"s":"110Kr","H":85.5,"v":5.9}
 ]},
 "mark":{"type":"line","clip":true,"strokeWidth":1},
 "encoding":{
  "x":{"field":"H","type":"quantitative","scale":{"domain":[-87.5,87.5],"nice":false,"zero":false},"axis":{"orient":"bottom","title":"H (kOe)","titlePadding":1,"values":[-50,0,50]}},
  "y":{"field":"v","type":"quantitative","scale":{"domain":[-20.6,20.3],"nice":false,"zero":false},"axis":{"orient":"left","title":"S (nV/K)","values":[-10,0,10],"titlePadding":2}},
  "color":{"field":"s","type":"nominal","scale":{"domain":["5K","30K","70K","110K","5Kr","70Kr","110Kr"],"range":["#1a1ac8","#2e5cff","#ff2a2a","#bcc8c8","#1a1ac8","#ff2a2a","#bcc8c8"]},"legend":{"title":null,"values":["5K","30K","70K","110K"],"labelExpr":"'T = ' + datum.label","orient":"none","legendX":15.7,"legendY":7}}
 }},
 {"data":{"values":[{}]},"mark":{"type":"text"},"encoding":{"x":{"datum":0,"type":"quantitative","scale":{"domain":[-87.5,87.5],"nice":false,"zero":false},"axis":{"orient":"bottom","title":null,"labels":false,"tickSize":-2,"values":[-80,-70,-60,-40,-30,-20,-10,10,20,30,40,60,70,80]}},"y":{"datum":0,"type":"quantitative","scale":{"domain":[-20.6,20.3],"nice":false,"zero":false},"axis":{"orient":"left","title":null,"labels":false,"tickSize":-2,"values":[-20,-15,-5,5,15,20]}},"text":{"value":""}}},
 {"data":{"values":[{}]},"mark":{"type":"text","fontSize":14,"align":"left","baseline":"alphabetic"},"encoding":{"x":{"datum":-120.4,"type":"quantitative","scale":{"domain":[-87.5,87.5],"nice":false,"zero":false},"axis":null},"y":{"datum":23.2,"type":"quantitative","scale":{"domain":[-20.6,20.3],"nice":false,"zero":false},"axis":null},"text":{"value":"(c)"}}},
 {"data":{"values":[{}]},"mark":{"type":"text","fontSize":15,"align":"center","baseline":"alphabetic"},"encoding":{"x":{"datum":-1.5,"type":"quantitative","scale":{"domain":[-87.5,87.5],"nice":false,"zero":false},"axis":null},"y":{"datum":25.1,"type":"quantitative","scale":{"domain":[-20.6,20.3],"nice":false,"zero":false},"axis":null},"text":{"value":"CrGeTe₃/Pt"}}},
 {"data":{"values":[{}]},"mark":{"type":"text","fontSize":16,"fontStyle":"italic","align":"left","baseline":"alphabetic"},"encoding":{"x":{"datum":8,"type":"quantitative","scale":{"domain":[-87.5,87.5],"nice":false,"zero":false},"axis":null},"y":{"datum":-16.8,"type":"quantitative","scale":{"domain":[-20.6,20.3],"nice":false,"zero":false},"axis":null},"text":{"value":"T"}}},
 {"data":{"values":[{}]},"mark":{"type":"text","fontSize":11,"align":"left","baseline":"alphabetic"},"encoding":{"x":{"datum":17.5,"type":"quantitative","scale":{"domain":[-87.5,87.5],"nice":false,"zero":false},"axis":null},"y":{"datum":-18.1,"type":"quantitative","scale":{"domain":[-20.6,20.3],"nice":false,"zero":false},"axis":null},"text":{"value":"C"}}},
 {"data":{"values":[{}]},"mark":{"type":"text","fontSize":16,"align":"left","baseline":"alphabetic"},"encoding":{"x":{"datum":27.6,"type":"quantitative","scale":{"domain":[-87.5,87.5],"nice":false,"zero":false},"axis":null},"y":{"datum":-16.8,"type":"quantitative","scale":{"domain":[-20.6,20.3],"nice":false,"zero":false},"axis":null},"text":{"value":"= 64.7 K"}}}
 ]},
{"width":181,"height":127,
 "resolve":{"axis":{"x":"independent","y":"independent"}},
 "layer":[
 {"data":{"values":[
{"s":"5K","H":-88,"v":-2.72},{"s":"5K","H":-30,"v":-2.71},{"s":"5K","H":-6,"v":-2.7},{"s":"5K","H":-4.6,"v":-2.62},{"s":"5K","H":4.6,"v":2.62},{"s":"5K","H":6,"v":2.72},{"s":"5K","H":30,"v":2.74},{"s":"5K","H":88,"v":2.75},
{"s":"5Kr","H":-88,"v":-2.69},{"s":"5Kr","H":-5,"v":-2.66},{"s":"5Kr","H":-3.8,"v":-2.55},{"s":"5Kr","H":5.4,"v":2.66},{"s":"5Kr","H":7,"v":2.72},{"s":"5Kr","H":88,"v":2.73},
{"s":"30K","H":-88,"v":-2.6},{"s":"30K","H":-50,"v":-2.56},{"s":"30K","H":-20,"v":-2.51},{"s":"30K","H":-6,"v":-2.46},{"s":"30K","H":-4.8,"v":-2.38},{"s":"30K","H":4.4,"v":2.42},{"s":"30K","H":6,"v":2.5},{"s":"30K","H":20,"v":2.55},{"s":"30K","H":50,"v":2.6},{"s":"30K","H":88,"v":2.64},
{"s":"70K","H":-88,"v":-2.1},{"s":"70K","H":-65,"v":-1.93},{"s":"70K","H":-50,"v":-1.79},{"s":"70K","H":-40,"v":-1.7},{"s":"70K","H":-30,"v":-1.6},{"s":"70K","H":-22,"v":-1.48},{"s":"70K","H":-15,"v":-1.33},{"s":"70K","H":-10,"v":-1.13},{"s":"70K","H":-7,"v":-0.98},{"s":"70K","H":-5,"v":-0.82},{"s":"70K","H":-3,"v":-0.55},{"s":"70K","H":-1.5,"v":-0.3},{"s":"70K","H":0,"v":0},{"s":"70K","H":1.5,"v":0.3},{"s":"70K","H":3,"v":0.55},{"s":"70K","H":5,"v":0.82},{"s":"70K","H":7,"v":0.98},{"s":"70K","H":10,"v":1.13},{"s":"70K","H":15,"v":1.33},{"s":"70K","H":22,"v":1.48},{"s":"70K","H":30,"v":1.6},{"s":"70K","H":40,"v":1.7},{"s":"70K","H":50,"v":1.79},{"s":"70K","H":65,"v":1.93},{"s":"70K","H":88,"v":2.1},
{"s":"110K","H":-88,"v":-1.0},{"s":"110K","H":-60,"v":-0.72},{"s":"110K","H":-40,"v":-0.5},{"s":"110K","H":-20,"v":-0.26},{"s":"110K","H":0,"v":0},{"s":"110K","H":20,"v":0.22},{"s":"110K","H":40,"v":0.42},{"s":"110K","H":60,"v":0.65},{"s":"110K","H":88,"v":1.0}
 ]},
 "mark":{"type":"line","clip":true,"strokeWidth":1.2},
 "encoding":{
  "x":{"field":"H","type":"quantitative","scale":{"domain":[-87.5,87.5],"nice":false,"zero":false},"axis":{"orient":"bottom","title":"H (kOe)","titlePadding":1,"values":[-50,0,50]}},
  "y":{"field":"v","type":"quantitative","scale":{"domain":[-3.55,3.5],"nice":false,"zero":false},"axis":{"orient":"left","title":"M (μB/Cr)","values":[-2,0,2],"titlePadding":12}},
  "color":{"field":"s","type":"nominal","scale":{"domain":["5K","30K","70K","110K","5Kr"],"range":["#2030d8","#4169ff","#ff3030","#c4d0d0","#2030d8"]},"legend":{"title":null,"values":["5K","30K","70K","110K"],"labelExpr":"'T = ' + datum.label","orient":"none","legendX":15.7,"legendY":7}}
 }},
 {"data":{"values":[{}]},"mark":{"type":"text"},"encoding":{"x":{"datum":0,"type":"quantitative","scale":{"domain":[-87.5,87.5],"nice":false,"zero":false},"axis":{"orient":"bottom","title":null,"labels":false,"tickSize":-2,"values":[-80,-70,-60,-40,-30,-20,-10,10,20,30,40,60,70,80]}},"y":{"datum":0,"type":"quantitative","scale":{"domain":[-3.55,3.5],"nice":false,"zero":false},"axis":{"orient":"left","title":null,"labels":false,"tickSize":-2,"values":[-3,-1,1,3]}},"text":{"value":""}}},
 {"data":{"values":[{}]},"mark":{"type":"text","fontSize":14,"align":"left","baseline":"alphabetic"},"encoding":{"x":{"datum":-118.5,"type":"quantitative","scale":{"domain":[-87.5,87.5],"nice":false,"zero":false},"axis":null},"y":{"datum":3.94,"type":"quantitative","scale":{"domain":[-3.55,3.5],"nice":false,"zero":false},"axis":null},"text":{"value":"(d)"}}},
 {"data":{"values":[{}]},"mark":{"type":"text","fontSize":15,"align":"center","baseline":"alphabetic"},"encoding":{"x":{"datum":0,"type":"quantitative","scale":{"domain":[-87.5,87.5],"nice":false,"zero":false},"axis":null},"y":{"datum":4.32,"type":"quantitative","scale":{"domain":[-3.55,3.5],"nice":false,"zero":false},"axis":null},"text":{"value":"CrGeTe₃"}}},
 {"data":{"values":[{}]},"mark":{"type":"text","fontSize":12,"fontStyle":"italic","align":"right","baseline":"alphabetic"},"encoding":{"x":{"datum":81.2,"type":"quantitative","scale":{"domain":[-87.5,87.5],"nice":false,"zero":false},"axis":null},"y":{"datum":-3.09,"type":"quantitative","scale":{"domain":[-3.55,3.5],"nice":false,"zero":false},"axis":null},"text":{"value":"H//ab"}}}
 ]}
]
}
